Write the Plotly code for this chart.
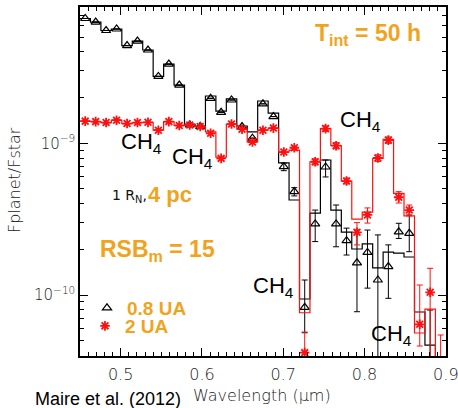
import plotly.graph_objects as go

# ---------------- data ----------------
wavelength = [0.4564, 0.4693, 0.4821, 0.4950, 0.5079, 0.5207, 0.5336, 0.5464, 0.5593,
              0.5721, 0.5850, 0.5979, 0.6107, 0.6236, 0.6364, 0.6493, 0.6621, 0.6750,
              0.6879, 0.7007, 0.7136, 0.7264, 0.7393, 0.7521, 0.7650, 0.7779, 0.7907,
              0.8036, 0.8164, 0.8293, 0.8421, 0.8550, 0.8679, 0.8807, 0.8936]

# 0.8 UA : binned model (step) and simulated measurement (triangles)
model_08 = [6.65e-9, 6.30e-9, 5.54e-9, 5.67e-9, 4.41e-9, 4.72e-9, 4.12e-9, 2.76e-9, 3.33e-9,
            2.42e-9, 1.34e-9, 1.30e-9, 2.05e-9, 1.63e-9, 1.96e-9, 1.30e-9, 1.19e-9, 1.90e-9,
            1.58e-9, 7.42e-10, 4.23e-10, 9.41e-11, 3.47e-10, 7.76e-10, 3.63e-10, 2.60e-10,
            2.01e-10, 2.17e-10, 1.51e-10, 1.92e-10, 1.89e-10, 1.78e-10, 7.73e-11, 4.68e-11,
            2.5e-11]
meas_08 = [6.65e-9, 6.30e-9, 5.54e-9, 5.67e-9, 4.41e-9, 4.72e-9, 4.12e-9, 2.76e-9, 3.33e-9,
           2.42e-9, 1.32e-9, 1.29e-9, 1.98e-9, 1.60e-9, 1.93e-9, 1.29e-9, 1.08e-9, 1.82e-9,
           1.50e-9, 7.01e-10, 4.81e-10, 8.30e-11, 2.94e-10, 6.98e-10, 2.94e-10, 2.28e-10,
           1.63e-10, 1.91e-10, 1.256e-10, 1.54e-10, 2.61e-10, 2.55e-10, 2.0e-11, 2.0e-11,
           2.0e-11]
up_08 = [None] * 19 + [7.4e-10, 5.1e-10, 1.256e-10, 3.63e-10, 7.76e-10, 3.92e-10, 2.76e-10,
                       2.68e-10, 2.68e-10, 2.49e-10, 2.14e-10, 2.97e-10, 3.37e-10, None,
                       7.96e-11, None]
lo_08 = [None] * 19 + [6.6e-10, 4.5e-10, 5.64e-11, 2.25e-10, 6.0e-10, 2.08e-10, 1.835e-10,
                       7.76e-11, 1.11e-10, 1.0e-11, 9.51e-11, 2.36e-10, 1.93e-10, None,
                       1.0e-11, None]

# 2 UA : binned model (step) and simulated measurement (asterisks)
model_2 = [1.40e-9, 1.39e-9, 1.37e-9, 1.42e-9, 1.35e-9, 1.37e-9, 1.375e-9, 1.22e-9, 1.39e-9,
           1.31e-9, 1.32e-9, 1.29e-9, 1.19e-9, 8.12e-10, 1.34e-9, 1.24e-9, 1.02e-9, 1.22e-9,
           1.26e-9, 8.76e-10, 9.03e-10, 7.64e-11, 7.56e-10, 1.25e-9, 9.64e-10, 5.64e-10,
           3.16e-10, 3.52e-10, 7.96e-10, 1.06e-9, 4.68e-10, 3.32e-10, 5.62e-11, 8.08e-11,
           2.0e-11]
meas_2 = [1.40e-9, 1.39e-9, 1.37e-9, 1.42e-9, 1.35e-9, 1.37e-9, 1.375e-9, 1.22e-9, 1.39e-9,
          1.31e-9, 1.32e-9, 1.29e-9, 1.164e-9, 7.96e-10, 1.34e-9, 1.24e-9, 1.02e-9, 1.22e-9,
          1.26e-9, 8.76e-10, 9.35e-10, 4.17e-11, 7.56e-10, 1.25e-9, 9.64e-10, 5.64e-10,
          2.59e-10, 3.37e-10, 8.0e-10, 1.05e-9, 4.41e-10, 3.63e-10, 6.41e-11, 1.042e-10,
          2.0e-11]
up_2 = [None] * 21 + [5.70e-11, 7.9e-10, 1.3e-9, 1.01e-9, 5.9e-10, 3.0e-10, 3.75e-10, 8.4e-10,
                      1.1e-9, 4.80e-10, 3.92e-10, 1.164e-10, 1.50e-10, 5.45e-11]
lo_2 = [None] * 21 + [1.0e-11, 7.2e-10, 1.2e-9, 9.2e-10, 5.4e-10, 2.14e-10, 2.98e-10, 7.6e-10,
                      1.0e-9, 4.04e-10, 3.32e-10, 4.61e-11, 1.0e-11, 1.0e-11]

x_range = [0.45, 0.9002]
y_range_log = [-10.402, -8.1015]
x_ticks = [0.5, 0.6, 0.7, 0.8, 0.9]
x_ticklabels = ["0.5", "0.6", "0.7", "0.8", "0.9"]
y_ticks = [1e-10, 1e-9]
y_ticklabels = ["10<sup>\u221210</sup>", "10<sup>\u22129</sup>"]
y_minor = [4e-11, 5e-11, 6e-11, 7e-11, 8e-11, 9e-11,
           2e-10, 3e-10, 4e-10, 5e-10, 6e-10, 7e-10, 8e-10, 9e-10,
           2e-9, 3e-9, 4e-9, 5e-9, 6e-9, 7e-9]

ORANGE = "#F0A41E"
RED = "#FF1010"
IDL_FONT = dict(family="DejaVu Sans", size=16, color="#222222", weight=300)
BOLD_FONT = "Liberation Sans, Arial, sans-serif"


def err(meas, up, lo):
    plus = [(u - m) if u is not None else 0 for m, u in zip(meas, up)]
    minus = [(m - l) if l is not None else 0 for m, l in zip(meas, lo)]
    return plus, minus


p08, m08 = err(meas_08, up_08, lo_08)
p2, m2 = err(meas_2, up_2, lo_2)

fig = go.Figure()
fig.add_trace(go.Scatter(
    x=[x_range[0]] + wavelength + [x_range[1]],
    y=[model_08[0]] + model_08 + [model_08[-1]],
    mode="lines", line=dict(color="black", width=1.2, shape="hvh"),
    showlegend=False, hoverinfo="skip"))
fig.add_trace(go.Scatter(
    x=wavelength, y=meas_08, mode="markers", name="0.8 UA", legend="legend",
    marker=dict(symbol="triangle-up-open", size=8, color="black", line=dict(width=1.2)),
    error_y=dict(type="data", symmetric=False, array=p08, arrayminus=m08,
                 color="black", thickness=1, width=3)))
fig.add_trace(go.Scatter(
    x=[x_range[0]] + wavelength + [x_range[1]],
    y=[model_2[0]] + model_2 + [model_2[-1]],
    mode="lines", line=dict(color=RED, width=1.2, shape="hvh"),
    showlegend=False, hoverinfo="skip"))
fig.add_trace(go.Scatter(
    x=wavelength, y=meas_2, mode="markers", name="2 UA", legend="legend2",
    marker=dict(symbol="asterisk-open", size=8, color=RED, line=dict(width=1.8, color=RED)),
    error_y=dict(type="data", symmetric=False, array=p2, arrayminus=m2,
                 color=RED, thickness=1, width=3)))

L, R, T, B, W, H = 80, 12, 7, 52, 458, 408
PW, PH = W - L - R, H - T - B


def px(x):
    return (x - L) / PW


def py(y):
    return (H - B - y) / PH


def ann(text, x, y, size, color="black", family=BOLD_FONT, weight="normal",
        xanchor="left", yanchor="middle", angle=0):
    return dict(text=text, x=px(x), y=py(y), xref="paper", yref="paper",
                xanchor=xanchor, yanchor=yanchor, showarrow=False, textangle=angle,
                font=dict(family=family, size=size, color=color, weight=weight))


annotations = [
    ann("T<sub>int</sub> = 50 h", 313, 35, 23, ORANGE, weight="bold"),
    ann("CH<sub>4</sub>", 119, 143, 22),
    ann("CH<sub>4</sub>", 170, 158, 22),
    ann("CH<sub>4</sub>", 338, 121, 22),
    ann("CH<sub>4</sub>", 251, 287, 22),
    ann("CH<sub>4</sub>", 369, 335, 22),
    ann("1 R<sub>N</sub>,", 110, 196, 14, "#111111", family="DejaVu Sans", weight=400),
    ann("4 pc", 146, 194, 22, ORANGE, weight="bold"),
    ann("RSB<sub>m</sub> = 15", 98, 251, 23, ORANGE, weight="bold"),
    ann("Wavelength (\u03bcm)", 262, 395, 16, "#222222", family="DejaVu Sans",
        weight=300, xanchor="center"),
    ann("Fplanet/Fstar", 14, 180, 16, "#222222", family="DejaVu Sans", weight=300,
        xanchor="center", angle=-90),
    ann("Maire et al. (2012)", 33, 399, 18, "black"),
]

legend_common = dict(xanchor="left", yanchor="top", bgcolor="rgba(0,0,0,0)", borderwidth=0,
                     itemsizing="trace",
                     font=dict(family=BOLD_FONT, size=19, color=ORANGE, weight="bold"))

fig.update_layout(
    width=W, height=H, margin=dict(l=L, r=R, t=T, b=B),
    paper_bgcolor="white", plot_bgcolor="white",
    showlegend=True,
    legend=dict(x=px(87), y=py(289), **legend_common),
    legend2=dict(x=px(85), y=py(307), **legend_common),
    xaxis=dict(range=x_range, tickmode="array", tickvals=x_ticks, ticktext=x_ticklabels,
               ticks="inside", ticklen=8, tickwidth=1, tickcolor="black",
               minor=dict(dtick=0.01, tick0=0.5, ticks="inside", ticklen=4,
                          tickwidth=1, tickcolor="black"),
               showline=True, linecolor="black", linewidth=1.5, mirror="ticks",
               showgrid=False, zeroline=False, tickfont=IDL_FONT, automargin=False,
               ticklabelstandoff=3, ticklabeloverflow="allow"),
    yaxis=dict(type="log", range=y_range_log, tickmode="array", tickvals=y_ticks,
               ticktext=y_ticklabels, ticks="inside", ticklen=8, tickwidth=1,
               tickcolor="black",
               minor=dict(tickmode="array", tickvals=y_minor, ticks="inside", ticklen=4,
                          tickwidth=1, tickcolor="black"),
               showline=True, linecolor="black", linewidth=1.5, mirror="ticks",
               showgrid=False, zeroline=False, tickfont=dict(IDL_FONT, size=15),
               automargin=False),
    annotations=annotations,
)

fig.write_html("out.html", config={"displayModeBar": False},
               post_script="document.body.style.margin='0px';")
